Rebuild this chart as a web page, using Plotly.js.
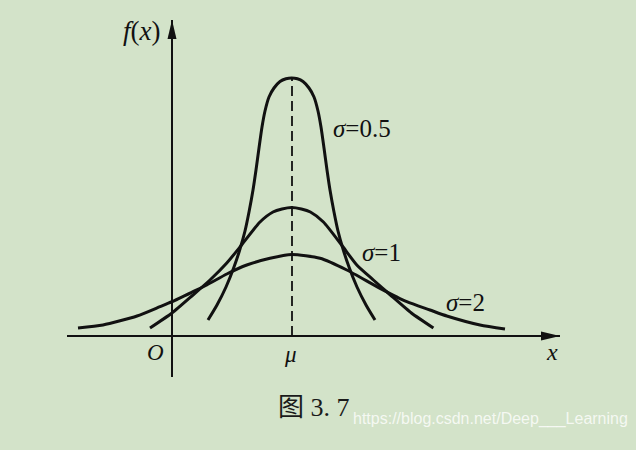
<!DOCTYPE html>
<html>
<head>
<meta charset="utf-8">
<script src="https://cdn.plot.ly/plotly-3.0.1.min.js"></script>
<style>html,body{margin:0;padding:0;background:#d3e3c9;}</style>
</head>
<body>
<div id="chart" style="width:636px;height:450px;"></div>
<script>
// Values (x: O = 0, mu = 3; y: density, arbitrary scale)
const mu = 3.0;
const s05_x = [0.90, 1.125, 1.35, 1.55, 1.70, 1.825, 1.925, 2.025, 2.10, 2.175, 2.25, 2.325, 2.425, 2.55, 2.70, 2.85, 2.99,
               3.135, 3.275, 3.425, 3.55, 3.65, 3.725, 3.80, 3.875, 3.95, 4.05, 4.15, 4.275, 4.425, 4.625, 4.85, 5.075];
const s05_y = [0.16, 0.31, 0.49, 0.69, 0.87, 1.05, 1.24, 1.46, 1.66, 1.88, 2.09, 2.25, 2.39, 2.48, 2.545, 2.572, 2.58,
               2.572, 2.545, 2.48, 2.39, 2.25, 2.09, 1.88, 1.66, 1.46, 1.24, 1.05, 0.87, 0.69, 0.49, 0.31, 0.16];
const s1_x = [-0.55, 0.0, 0.525, 0.95, 1.37, 1.74, 2.20, 2.525, 2.75, 2.99, 3.235, 3.46, 3.785, 4.24, 4.62, 5.035, 5.46, 5.985, 6.535];
const s1_y = [0.08, 0.23, 0.41, 0.56, 0.73, 0.91, 1.14, 1.24, 1.27, 1.285, 1.27, 1.24, 1.14, 0.91, 0.71, 0.56, 0.41, 0.23, 0.08];
const s2_x = [-2.35, -1.725, -0.875, -0.30, 0.0, 0.525, 0.87, 1.37, 1.87, 2.45, 2.99, 3.70, 4.37, 5.20, 5.87, 6.45, 6.87, 7.70, 8.325];
const s2_y = [0.08, 0.11, 0.20, 0.293, 0.343, 0.443, 0.51, 0.62, 0.71, 0.777, 0.815, 0.777, 0.66, 0.477, 0.343, 0.26, 0.20, 0.11, 0.07];
const peak = 2.58;
const curveLabels = ['<i>σ</i>=0.5', '<i>σ</i>=1', '<i>σ</i>=2'];
const tickLabels = ['<i>O</i>', '<i>μ</i>'];

const ink = '#111111';
const lineStyle = {color: ink, width: 3, shape: 'spline', smoothing: 0.6};
const traces = [
  {x: s2_x, y: s2_y, mode: 'lines', line: lineStyle, hoverinfo: 'skip'},
  {x: s1_x, y: s1_y, mode: 'lines', line: lineStyle, hoverinfo: 'skip'},
  {x: s05_x, y: s05_y, mode: 'lines', line: lineStyle, hoverinfo: 'skip'},
  {x: [mu, mu], y: [0, peak], mode: 'lines', line: {color: ink, width: 1.8, dash: '10px,5px'}, hoverinfo: 'skip'}
];

const serif = 'Liberation Serif, DejaVu Serif, serif';
const ann = (x, y, text, size, extra) => Object.assign({x: x, y: y, xref: 'x', yref: 'y', text: text, showarrow: false,
  font: {family: serif, size: size, color: ink}}, extra || {});

const layout = {
  width: 636, height: 450,
  margin: {l: 67, r: 76, t: 20, b: 73, pad: 0},
  paper_bgcolor: '#d3e3c9', plot_bgcolor: '#d3e3c9',
  showlegend: false,
  xaxis: {range: [-2.625, 9.7], showgrid: false, showticklabels: false, ticks: '', showline: false,
          zeroline: true, zerolinecolor: ink, zerolinewidth: 1.8, fixedrange: true},
  yaxis: {range: [-0.41, 3.16], showgrid: false, showticklabels: false, ticks: '', showline: false,
          zeroline: true, zerolinecolor: ink, zerolinewidth: 1.8, fixedrange: true},
  shapes: [
    {type: 'path', xref: 'x', yref: 'y', xsizemode: 'pixel', ysizemode: 'pixel', xanchor: 9.7, yanchor: 0,
     path: 'M0,0 L-19,4.5 L-19,-4.5 Z', fillcolor: ink, line: {width: 0}},
    {type: 'path', xref: 'x', yref: 'y', xsizemode: 'pixel', ysizemode: 'pixel', xanchor: 0, yanchor: 3.16,
     path: 'M0,0 L-4.5,-19 L4.5,-19 Z', fillcolor: ink, line: {width: 0}}
  ],
  annotations: [
    ann(-0.75, 3.05, '<i>f</i>(<i>x</i>)', 27),
    ann(-0.42, -0.165, tickLabels[0], 23),
    ann(2.95, -0.18, tickLabels[1], 23),
    ann(9.5, -0.16, '<i>x</i>', 24),
    ann(4.75, 2.08, curveLabels[0], 25),
    ann(5.225, 0.84, curveLabels[1], 25),
    ann(7.325, 0.34, curveLabels[2], 25),
    {x: 0.5, y: -0.132, xref: 'paper', yref: 'paper', text: '图 3. 7', showarrow: false,
     font: {family: 'Liberation Serif, Noto Sans CJK SC, serif', size: 26, color: '#1a1a1a'}},
    {x: 0.576, y: -0.149, xref: 'paper', yref: 'paper', xanchor: 'left', text: 'https://blog.csdn.net/Deep___Learning', showarrow: false,
     font: {family: 'Liberation Sans, Arial, sans-serif', size: 16, color: 'rgba(255,255,255,0.78)'}}
  ]
};

Plotly.newPlot('chart', traces, layout, {staticPlot: true, displayModeBar: false});
</script>
</body>
</html>
